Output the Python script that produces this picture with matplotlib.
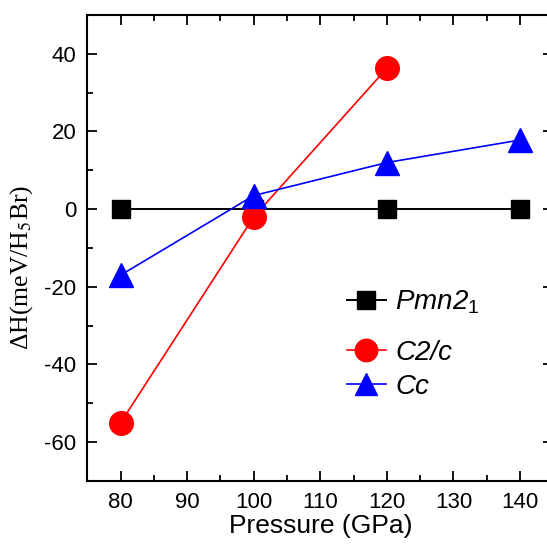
import matplotlib
matplotlib.use('Agg')
import matplotlib.pyplot as plt
from matplotlib.font_manager import FontProperties
from matplotlib.ticker import MultipleLocator

plt.rcParams['font.family'] = ['Liberation Sans', 'DejaVu Sans']
plt.rcParams['axes.unicode_minus'] = False
plt.rcParams['mathtext.fontset'] = 'custom'
plt.rcParams['mathtext.rm'] = 'Liberation Sans'
plt.rcParams['mathtext.it'] = 'Liberation Sans:italic'

# presiones (GPa) y entalpías relativas (meV/H5Br)
pressure_pmn = [80, 100, 120, 140]
dH_pmn = [0, 0, 0, 0]

pressure_c2c = [80, 100, 120]
dH_c2c = [-55, -2, 36.3]

pressure_cc = [80, 100, 120, 140]
dH_cc = [-17, 3.5, 12, 17.8]

fig = plt.figure(figsize=(5.47, 5.49), dpi=100)
ax = fig.add_axes([0.1596, 0.1239, 0.852, 0.8488])

l_pmn, = ax.plot(pressure_pmn, dH_pmn, color='black', lw=1.4, marker='s',
                 ms=13, label='Pmn2$_1$')
l_c2c, = ax.plot(pressure_c2c, dH_c2c, color='red', lw=1.2, marker='o',
                 ms=17, label='C2/c')
l_cc, = ax.plot(pressure_cc, dH_cc, color='blue', lw=1.2, marker='^',
                ms=17, label='Cc')

ax.set_xlim(75, 145)
ax.set_ylim(-70, 50)
ax.xaxis.set_major_locator(MultipleLocator(10))
ax.xaxis.set_minor_locator(MultipleLocator(5))
ax.yaxis.set_major_locator(MultipleLocator(20))
ax.yaxis.set_minor_locator(MultipleLocator(10))
ax.tick_params(which='both', direction='in', top=True, right=True,
               width=1.3, labelsize=16, pad=8)
ax.tick_params(which='major', length=7)
ax.tick_params(which='minor', length=4)
for s in ax.spines.values():
    s.set_linewidth(1.5)

ax.set_xlabel('Pressure (GPa)', fontsize=19, labelpad=1)
ax.set_ylabel('ΔH(meV/H$_5$Br)',
              fontproperties=FontProperties(family='Liberation Serif', size=18.5,
                                            math_fontfamily='stix'))
ax.yaxis.set_label_coords(-0.112, 0.459)

# leyenda en dos bloques: Pmn2_1 arriba, C2/c y Cc debajo
leg_font = FontProperties(family='Liberation Sans', style='italic', size=20)
leg_kw = dict(loc='center left', bbox_transform=fig.transFigure,
              frameon=False, prop=leg_font, handlelength=1.4,
              handletextpad=0.35, borderpad=0, borderaxespad=0,
              markerscale=0.95)
leg1 = ax.legend(handles=[l_pmn], bbox_to_anchor=(0.634, 1 - 302 / 549),
                 **leg_kw)
ax.add_artist(leg1)
ax.legend(handles=[l_c2c, l_cc], bbox_to_anchor=(0.634, 1 - 370 / 549),
          labelspacing=0.3, **leg_kw)

fig.savefig('out.png', dpi=100)
